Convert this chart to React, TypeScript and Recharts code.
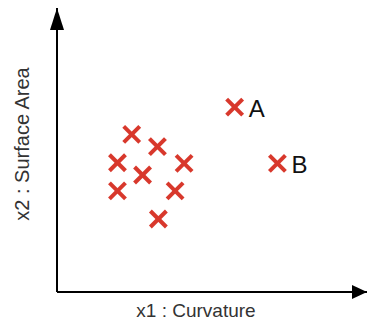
import { ScatterChart, Scatter, XAxis, YAxis } from "recharts"

const xs = [2.41, 3.24, 1.95, 4.1, 2.76, 1.95, 3.81, 3.27, 5.73, 7.11]
const ys = [5.55, 5.12, 4.55, 4.53, 4.12, 3.56, 3.56, 2.57, 6.51, 4.53]
const names = ["", "", "", "", "", "", "", "", "A", "B"]

const points = xs.map((x, i) => ({ x, y: ys[i], name: names[i] }))

const font = "'Liberation Sans', Arial, sans-serif"
const red = "#d8382c"

function Cross(props: any) {
    const { cx, cy, payload } = props
    const s = 8
    return (
        <g>
            <line x1={cx - s} y1={cy - s} x2={cx + s} y2={cy + s} stroke={red} strokeWidth={4} />
            <line x1={cx - s} y1={cy + s} x2={cx + s} y2={cy - s} stroke={red} strokeWidth={4} />
            {payload.name && (
                <text x={cx + 14} y={cy + 1} dominantBaseline="central" fontSize={24} fill="#111" fontFamily={font}>
                    {payload.name}
                </text>
            )}
        </g>
    )
}

export default function App() {
    return (
        <div style={{ position: "absolute", left: 0, top: 0 }}>
            <svg width={0} height={0} style={{ position: "absolute" }}>
                <defs>
                    <marker id="arrowY" markerUnits="userSpaceOnUse" markerWidth={22} markerHeight={14} viewBox="0 0 22 14" refX={22} refY={7} orient="auto-start-reverse">
                        <path d="M0,0 L22,7 L0,14 z" fill="#000" />
                    </marker>
                    <marker id="arrowX" markerUnits="userSpaceOnUse" markerWidth={15} markerHeight={14} viewBox="0 0 15 14" refX={15} refY={7} orient="auto-start-reverse">
                        <path d="M0,0 L15,7 L0,14 z" fill="#000" />
                    </marker>
                </defs>
            </svg>
            <ScatterChart width={367} height={321} margin={{ top: 8, right: 0, left: 0, bottom: 0 }}>
                <XAxis
                    type="number"
                    dataKey="x"
                    domain={[0, 10]}
                    tick={false}
                    tickLine={false}
                    height={29}
                    axisLine={{ stroke: "#000", strokeWidth: 2, markerEnd: "url(#arrowX)" }}
                    label={{ value: "x1 : Curvature", position: "insideBottom", offset: 4, dx: -16, fontSize: 19, fill: "#333", fontFamily: font }}
                />
                <YAxis
                    type="number"
                    dataKey="y"
                    domain={[0, 10]}
                    tick={false}
                    tickLine={false}
                    width={57}
                    axisLine={{ stroke: "#000", strokeWidth: 2, markerStart: "url(#arrowY)" }}
                    label={{ value: "x2 : Surface Area", angle: -90, position: "center", dx: -7, dy: -6, fontSize: 20, fill: "#333", fontFamily: font }}
                />
                <Scatter data={points} shape={Cross} isAnimationActive={false} />
            </ScatterChart>
        </div>
    )
}
